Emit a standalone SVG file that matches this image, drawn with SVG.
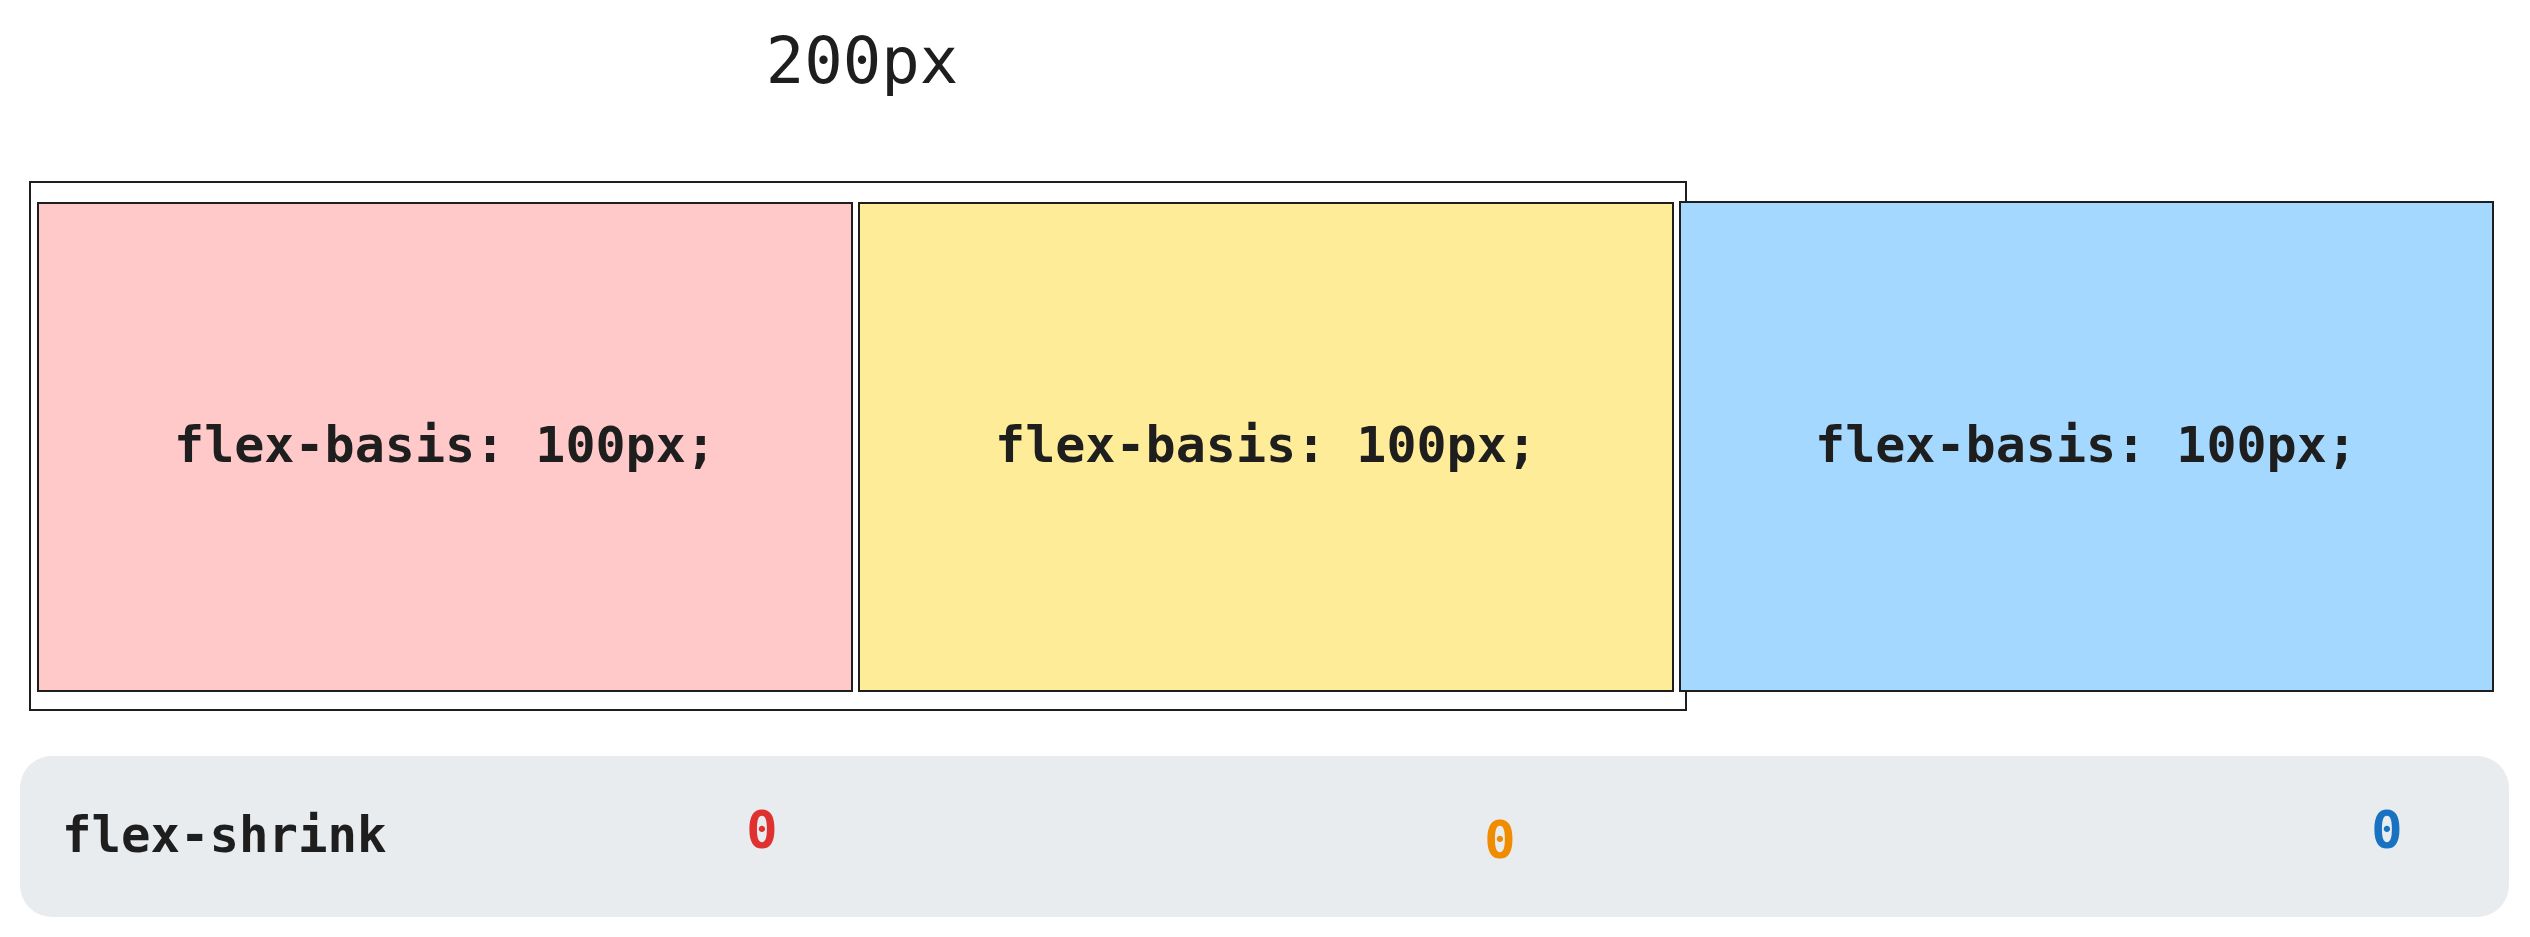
<svg xmlns="http://www.w3.org/2000/svg" width="2530" height="937" viewBox="0 0 2530 937">
<style>
.box{stroke:#1e1e1e;stroke-width:2}
.lbl{font-family:"DejaVu Sans Mono","Liberation Mono",monospace;fill:#1e1e1e}
.b{font-weight:bold}
.num{font-family:"DejaVu Sans Mono","Liberation Mono",monospace;font-size:52px;text-anchor:middle;font-weight:bold}
</style>
<rect width="2530" height="937" fill="#ffffff"/>
<g id="title"><text class="lbl" x="862" y="83" font-size="64" text-anchor="middle">200px</text></g>
<g id="container"><rect x="30" y="182" width="1656" height="528" fill="none" stroke="#1e1e1e" stroke-width="2"/></g>
<g id="item1"><rect class="box" x="38" y="203" width="814" height="488" fill="#ffc9c9"/><text class="lbl b" x="445" y="462" font-size="50" text-anchor="middle">flex-basis: 100px;</text></g>
<g id="item2"><rect class="box" x="859" y="203" width="814" height="488" fill="#ffec99"/><text class="lbl b" x="1266" y="462" font-size="50" text-anchor="middle">flex-basis: 100px;</text></g>
<g id="item3"><rect class="box" x="1680" y="202" width="813" height="489" fill="#a5d8ff"/><text class="lbl b" x="2086" y="462" font-size="50" text-anchor="middle">flex-basis: 100px;</text></g>
<g id="shrink-row">
<rect x="20" y="756" width="2489" height="161" rx="32" ry="32" fill="#e9ecef"/>
<text class="lbl b" x="62" y="852" font-size="49">flex-shrink</text>
<text class="num" x="762" y="848" fill="#e03131">0</text>
<text class="num" x="1500" y="858" fill="#f08c00">0</text>
<text class="num" x="2387" y="848" fill="#1971c2">0</text>
</g>
<g id="connectors"></g>
</svg>
